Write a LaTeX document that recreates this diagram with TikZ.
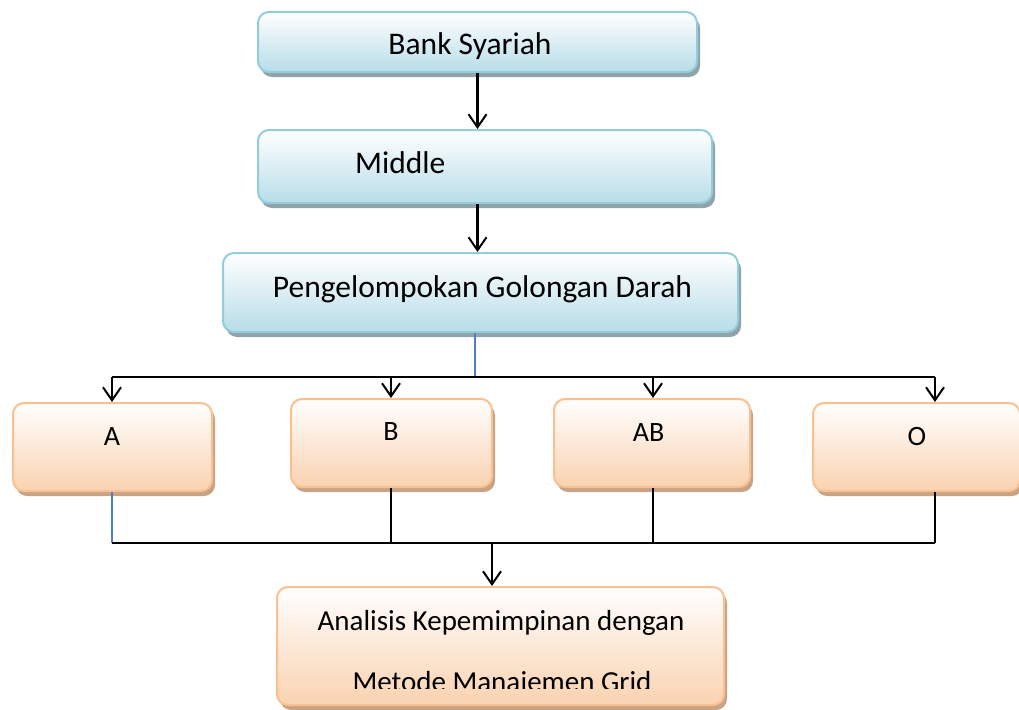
\documentclass[tikz,border=0pt]{standalone}
\usepackage{fontspec}
\setmainfont{Carlito}
\usetikzlibrary{arrows.meta,shadows}
\definecolor{bluebd}{HTML}{93CDDD}
\definecolor{bluefill}{HTML}{B7DDE8}
\definecolor{blueshd}{HTML}{8FA3A8}
\definecolor{orbd}{HTML}{FAC090}
\definecolor{orfill}{HTML}{FAD2B0}
\definecolor{orshd}{HTML}{C9A385}
\definecolor{linkblue}{HTML}{4F81BD}
\begin{document}
\begin{tikzpicture}[x=1pt,y=-1pt,
  box/.style={rounded corners=11pt, line width=2pt, inner sep=0pt, top color=white},
  bluebox/.style={box, draw=bluebd, bottom color=bluefill,
    drop shadow={shadow xshift=3pt,shadow yshift=-5pt,fill=blueshd,opacity=1}},
  orbox/.style={box, draw=orbd, bottom color=orfill,
    drop shadow={shadow xshift=3pt,shadow yshift=-5pt,fill=orshd,opacity=1}},
  big/.style={font=\fontsize{31.5}{37}\selectfont, inner sep=0pt, anchor=base},
  mid/.style={font=\fontsize{28}{34}\selectfont, inner sep=0pt, anchor=base},
  low/.style={font=\fontsize{29}{35}\selectfont, inner sep=0pt, anchor=base},
  arr/.style={line width=2.1pt, -{Straight Barb[length=13pt,width=18pt,line width=2pt]}},
  bus/.style={line width=1.8pt},
  bluelink/.style={line width=1.4pt, draw=linkblue}
]
\useasboundingbox (0,0) rectangle (1019,709);
% boxes
\node[bluebox, minimum width=439pt, minimum height=60pt] (bank) at (477.5,42) {};
\node[bluebox, minimum width=454pt, minimum height=73pt] (middle) at (485,166.5) {};
\node[bluebox, minimum width=515pt, minimum height=79pt] (peng) at (480.5,292.5) {};
\node[orbox, minimum width=199pt, minimum height=88pt] (A) at (112.5,447) {};
\node[orbox, minimum width=201pt, minimum height=88pt] (B) at (391.5,443) {};
\node[orbox, minimum width=196pt, minimum height=88pt] (AB) at (652,443) {};
\node[orbox, minimum width=207pt, minimum height=88pt] (O) at (916.5,447) {};
\node[orbox, minimum width=447pt, minimum height=118pt] (res) at (500.5,646) {};
% texts
\node[big] (tbank) at (470,55) {Bank Syariah};
\node[big, anchor=base west] (tmiddle) at (355,173) {Middle};
\node[big] (tpeng) at (482.5,297) {Pengelompokan Golongan Darah};
\node[mid] (tA) at (112,445) {A};
\node[mid] (tB) at (391,440) {B};
\node[mid] (tAB) at (648.5,441) {AB};
\node[mid] (tO) at (917,445) {O};
\node[low] (tres1) at (501,630) {Analisis Kepemimpinan dengan};
\begin{scope}
  \clip (0,0) rectangle (1019,688);
  \node[low] (tres2) at (502,691) {Metode Manajemen Grid};
\end{scope}
% coordinates
\coordinate (top) at (475,377);
\coordinate (busA) at (112,377);
\coordinate (busB) at (391,377);
\coordinate (busAB) at (653,377);
\coordinate (busO) at (935,377);
\coordinate (botA) at (112,543);
\coordinate (botB) at (391,543);
\coordinate (botAB) at (653,543);
\coordinate (botO) at (935,543);
\coordinate (botM) at (492,543);
% connectors
\draw[arr] (bank.south) -- (bank.south |- middle.north);
\draw[arr] (bank.south |- middle.south) -- (bank.south |- peng.north);
\draw[bluelink] (top |- peng.south) -- (top);
\draw[bus] (busA) -- (busO);
\draw[arr] (busA) -- (busA |- A.north);
\draw[arr] (busB) -- (busB |- B.north);
\draw[arr] (busAB) -- (busAB |- AB.north);
\draw[arr] (busO) -- (busO |- O.north);
\draw[bluelink] (botA |- A.south) -- (botA);
\draw[bus] (botB |- B.south) -- (botB);
\draw[bus] (botAB |- AB.south) -- (botAB);
\draw[bus] (botO |- O.south) -- (botO);
\draw[bus] (botA) -- (botO);
\draw[arr] (botM) -- (botM |- res.north);
\end{tikzpicture}
\end{document}
